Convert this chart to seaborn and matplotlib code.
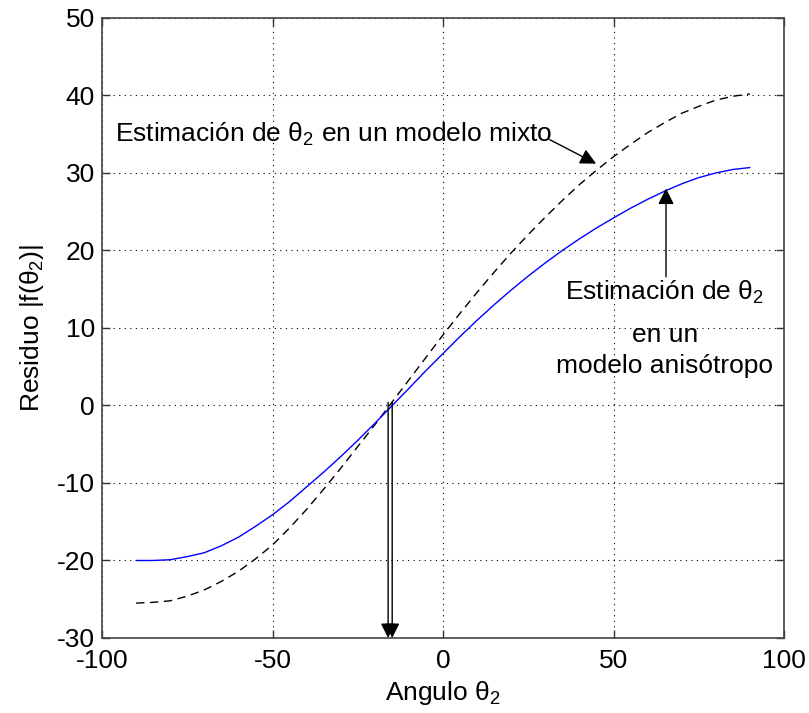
import numpy as np
import pandas as pd
import matplotlib
matplotlib.use("Agg")
import matplotlib.pyplot as plt
import seaborn as sns

# ---- data ----
theta = [-90, -85, -80, -75, -70, -65, -60, -55, -50, -45, -40, -35, -30, -25, -20, -15, -10, -5,
         0, 5, 10, 15, 20, 25, 30, 35, 40, 45, 50, 55, 60, 65, 70, 75, 80, 85, 90]
residuo_anisotropo = [-20.0, -20.0, -19.9, -19.5, -19.0, -18.1, -17.0, -15.6, -14.1, -12.4, -10.5,
                      -8.6, -6.6, -4.5, -2.3, -0.05, 2.2, 4.5, 6.7, 8.9, 11.0, 13.0, 14.9, 16.7,
                      18.4, 20.0, 21.5, 22.9, 24.2, 25.45, 26.6, 27.65, 28.6, 29.4, 30.0, 30.45, 30.7]
residuo_mixto = [-25.5, -25.4, -25.2, -24.6, -23.8, -22.7, -21.4, -19.8, -18.0, -15.8, -13.4,
                 -10.8, -8.1, -5.3, -2.5, 0.4, 3.3, 6.2, 9.1, 11.9, 14.6, 17.2, 19.7, 22.05,
                 24.3, 26.45, 28.5, 30.35, 32.1, 33.7, 35.2, 36.5, 37.7, 38.6, 39.4, 39.9, 40.2]
xticks = [-100, -50, 0, 50, 100]
yticks = [-30, -20, -10, 0, 10, 20, 30, 40, 50]

df = pd.DataFrame({"theta": theta, "anis": residuo_anisotropo, "mixto": residuo_mixto})

sns.set_theme(style="white")
plt.rcParams["font.family"] = ["Liberation Sans", "DejaVu Sans"]
plt.rcParams["mathtext.fontset"] = "custom"
plt.rcParams["mathtext.rm"] = "Liberation Sans"
plt.rcParams["mathtext.it"] = "Liberation Sans"
plt.rcParams["mathtext.bf"] = "Liberation Sans"
plt.rcParams["mathtext.default"] = "rm"
plt.rcParams["text.color"] = "black"
plt.rcParams["axes.labelcolor"] = "black"

FS = 19

fig = plt.figure(figsize=(8.09, 7.13), dpi=100)
ax = fig.add_axes([0.1261, 0.1052, 0.843, 0.8696])

sns.lineplot(data=df, x="theta", y="mixto", ax=ax, color="black", lw=1.0,
             linestyle=(0, (6, 4)), sort=False)
sns.lineplot(data=df, x="theta", y="anis", ax=ax, color="#0000ff", lw=1.0, sort=False)

ax.set_xlim(-100, 100)
ax.set_ylim(-30, 50)
ax.set_xticks(xticks)
ax.set_yticks(yticks)
ax.set_xticklabels([str(v) for v in xticks], fontsize=FS)
ax.set_yticklabels([str(v) for v in yticks], fontsize=FS)
ax.grid(True, color="black", linestyle=(0, (1, 4)), linewidth=0.8)
ax.tick_params(direction="in", length=6, width=1, top=True, right=True,
               bottom=True, left=True, colors="#333333", labelcolor="black")
ax.tick_params(axis="y", pad=5)
ax.tick_params(axis="x", pad=8)
for s in ax.spines.values():
    s.set_color("#444444")
    s.set_linewidth(1.2)

ax.set_xlabel(r"Angulo $\theta_2$", fontsize=FS, labelpad=4)
ax.set_ylabel(r"Residuo |f($\theta_2$)|", fontsize=FS, labelpad=8)

# annotation: modelo mixto
ax.text(-96.2, 34.0, r"Estimación de $\theta_2$ en un modelo mixto", fontsize=FS,
        ha="left", va="baseline")
ax.annotate("", xy=(44.9, 31.2), xytext=(31.3, 34.3),
            arrowprops=dict(arrowstyle="-|>", color="black", lw=1.0,
                            mutation_scale=24, shrinkA=0, shrinkB=0))

# annotation: modelo anisotropo
ax.annotate("", xy=(65.4, 28.0), xytext=(65.4, 16.6),
            arrowprops=dict(arrowstyle="-|>", color="black", lw=1.0,
                            mutation_scale=24, shrinkA=0, shrinkB=0))
ax.text(65.0, 13.6, r"Estimación de $\theta_2$", fontsize=FS, ha="center", va="baseline")
ax.text(65.0, 8.2, "en un", fontsize=FS, ha="center", va="baseline")
ax.text(65.0, 4.2, "modelo anisótropo", fontsize=FS, ha="center", va="baseline")

# double arrow from zero crossing down to the axis
for xa in (-16.1, -14.9):
    ax.annotate("", xy=(xa, -30), xytext=(xa, 0.4),
                arrowprops=dict(arrowstyle="-|>", color="black", lw=1.0,
                                mutation_scale=22, shrinkA=0, shrinkB=0))

fig.savefig("out.png", dpi=100)
